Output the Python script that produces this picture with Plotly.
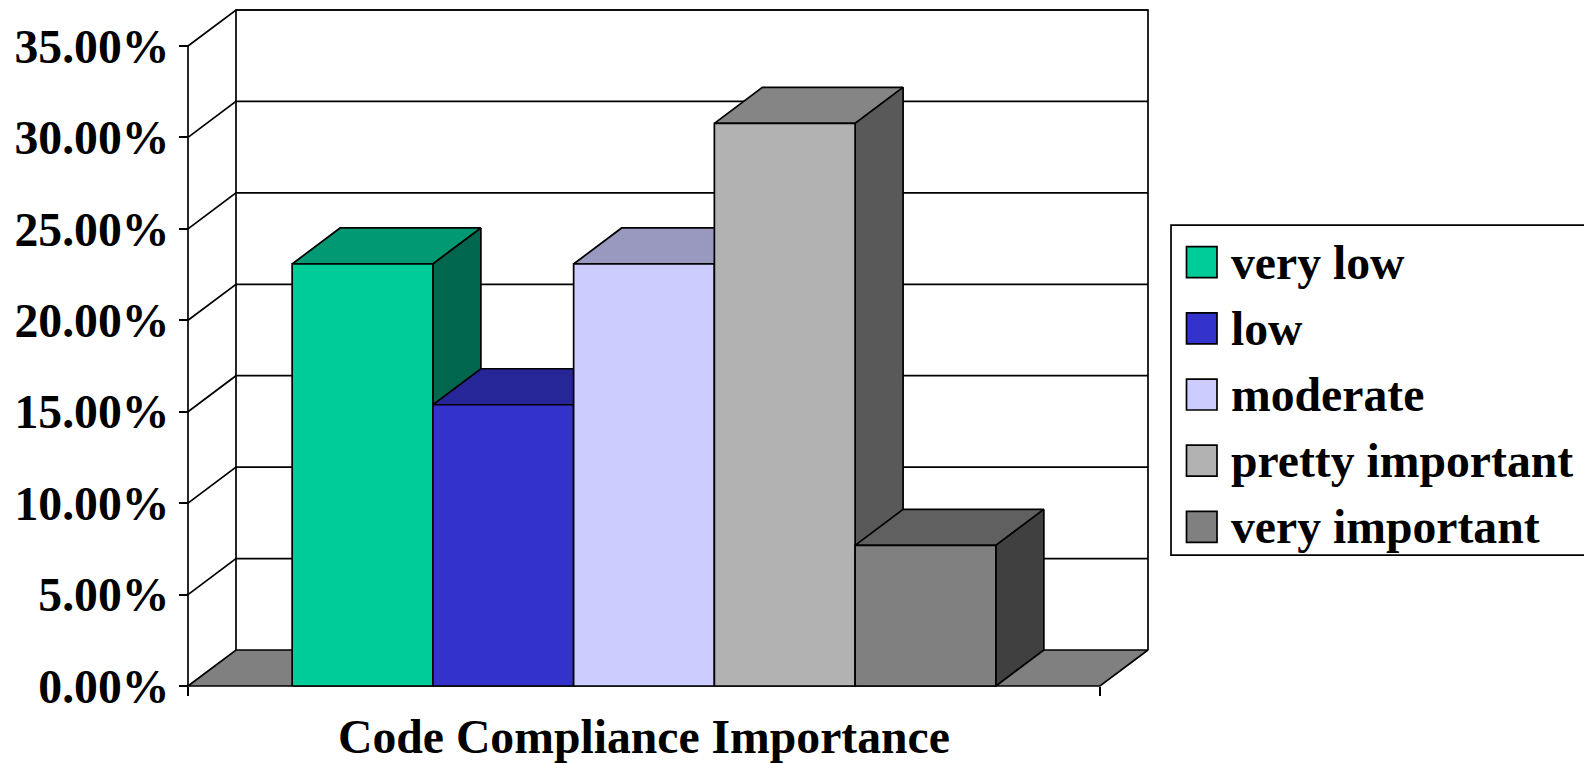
import plotly.graph_objects as go

categories = ["very low", "low", "moderate", "pretty important", "very important"]
values = [23.08, 15.38, 23.08, 30.77, 7.69]
front_colors = ["#00CC99", "#3333CC", "#CCCCFF", "#B2B2B2", "#808080"]
top_colors = ["#009973", "#262699", "#9999BF", "#858585", "#606060"]
side_colors = ["#00664D", "#1A1A66", "#666680", "#595959", "#404040"]
y_ticks = [0, 5, 10, 15, 20, 25, 30, 35]
axis_title = "Code Compliance Importance"

W, H = 1584, 763
# Front plane of the chart, in page pixels
L, R, T, B = 188, 1100, 45.7, 686
DPX, DPY = 48, 36      # depth offset of the back wall
PAD = 3                # room so that edge lines are not cut by the plot clip
LW = 1.7
FONT = dict(family="Liberation Serif", size=47.7, color="black", weight="bold")

XU = R - L             # pixels per x unit (front width = 1)
YU = (B - T) / 35      # pixels per percent
DX = DPX / XU
DY = DPY / YU
# Clustered bars: gap width around five touching bars
GAP = 1.48
BW = 1 / (len(values) + GAP)
X0 = GAP * BW / 2

# Plot area in page pixels
AL, AR, AT, AB = L - PAD, R + DPX + PAD, T - DPY - PAD, B + PAD


def poly(xs, ys, fill=None, width=LW):
    return go.Scatter(
        x=xs, y=ys, mode="lines", showlegend=False, hoverinfo="skip",
        fill="toself" if fill else None, fillcolor=fill,
        line=dict(color="black", width=width),
    )


fig = go.Figure()

# Back wall, top and right edge
fig.add_trace(poly([DX, DX, 1 + DX, 1 + DX], [DY, 35 + DY, 35 + DY, DY]))
# Front axis lines
fig.add_trace(poly([0, 0], [0, 35]))
# Gridlines across the side and back wall
for v in y_ticks[1:]:
    fig.add_trace(poly([0, DX, 1 + DX], [v, v + DY, v + DY]))
# Floor
fig.add_trace(poly([0, 1, 1 + DX, DX, 0], [0, 0, DY, DY, 0], fill="#808080"))

# Bars, left to right, so that later ones hide earlier side faces
for i, v in enumerate(values):
    a, b = X0 + i * BW, X0 + (i + 1) * BW
    fig.add_trace(poly([a, b, b + DX, a + DX, a], [v, v, v + DY, v + DY, v], fill=top_colors[i]))
    fig.add_trace(poly([b, b + DX, b + DX, b, b], [0, DY, v + DY, v, 0], fill=side_colors[i]))
    fig.add_trace(poly([a, b, b, a, a], [0, 0, v, v, 0], fill=front_colors[i]))


def px(x):
    return (x - AL) / (AR - AL)


def py(y):
    return (AB - y) / (AB - AT)


shapes = [dict(type="rect", xref="paper", yref="paper", x0=px(1171), x1=px(W + 10), y0=py(225), y1=py(555),
               line=dict(color="black", width=LW), fillcolor="white", layer="above")]
annotations = [dict(text=axis_title, xref="x", yref="paper", x=0.5, y=py(737), xanchor="center",
                    yanchor="middle", showarrow=False, font=FONT)]
for i, name in enumerate(categories):
    cy = 262 + i * 66.2
    shapes.append(dict(type="rect", xref="paper", yref="paper", x0=px(1186.5), x1=px(1217),
                       y0=py(cy - 15.5), y1=py(cy + 15.5), fillcolor=front_colors[i],
                       line=dict(color="black", width=LW), layer="above"))
    annotations.append(dict(text=name, xref="paper", yref="paper", x=px(1229), y=py(cy),
                            xanchor="left", yanchor="middle", showarrow=False, font=FONT))

fig.update_layout(
    width=W, height=H, autosize=False,
    margin=dict(l=AL, r=W - AR, t=AT, b=H - AB, pad=0),
    paper_bgcolor="white", plot_bgcolor="white", showlegend=False,
    shapes=shapes, annotations=annotations,
    xaxis=dict(range=[-PAD / XU, 1 + DX + PAD / XU], tickvals=[0, 1], ticktext=["", ""],
               ticks="outside", ticklen=9, tickwidth=LW, tickcolor="black",
               showline=False, showgrid=False, zeroline=False,
               anchor="free", position=py(B)),
    yaxis=dict(range=[-PAD / YU, 35 + DY + PAD / YU], tickvals=y_ticks,
               ticktext=[f"{v:.2f}%" for v in y_ticks],
               ticks="outside", ticklen=9, tickwidth=LW, tickcolor="black",
               showline=False, showgrid=False, zeroline=False,
               tickfont=FONT, ticklabelstandoff=0,
               anchor="free", position=px(L)),
)

fig.write_html("out.html", config={"displayModeBar": False},
               post_script="document.body.style.margin='0';document.body.style.overflow='hidden';")
